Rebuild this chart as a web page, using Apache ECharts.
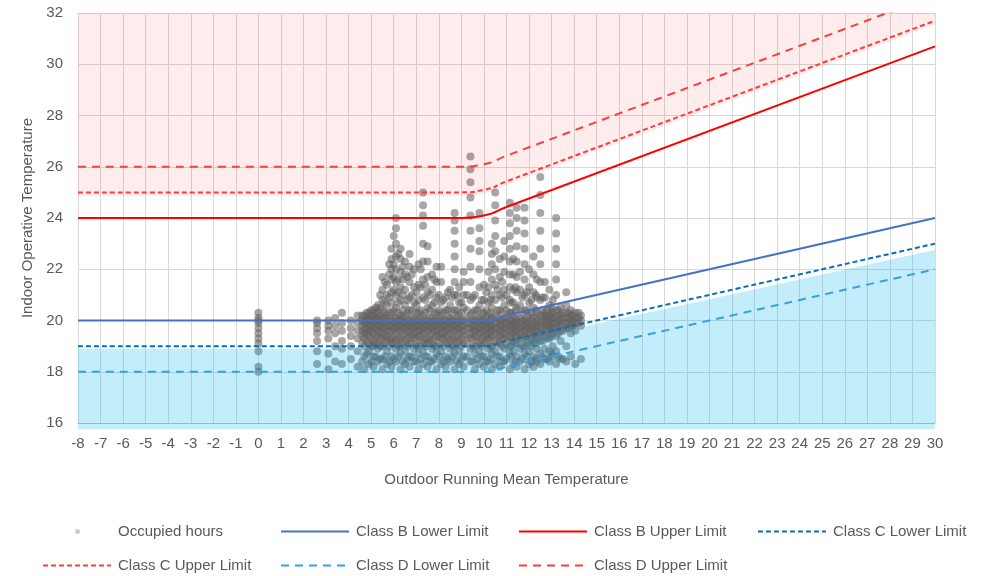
<!DOCTYPE html>
<html><head><meta charset="utf-8">
<script src="https://cdn.jsdelivr.net/npm/echarts@6/dist/echarts.min.js"></script>
<style>html,body{margin:0;padding:0;background:#fff}#chart{width:999px;height:576px}</style>
</head><body><div id="chart"></div>
<script>
// Occupied hours: x positions (outdoor running mean) and indoor temperatures per x
const occX = [0.0, 2.6, 3.1, 3.4, 3.7, 4.1, 4.4, 4.7, 4.9, 5.1, 5.3, 5.5, 5.7, 5.9, 6.1, 6.3, 6.5, 6.7, 6.9, 7.1, 7.3, 7.5, 7.7, 7.9, 8.1, 8.3, 8.5, 8.7, 8.9, 9.1, 9.4, 9.6, 9.8, 10.0, 10.2, 10.35, 10.5, 10.7, 10.9, 11.15, 11.3, 11.45, 11.6, 11.8, 12.0, 12.2, 12.35, 12.5, 12.7, 12.9, 13.05, 13.2, 13.4, 13.65, 13.85, 14.05, 14.3];
const occY = [
  [18.0, 18.2, 18.8, 19.1, 19.3, 19.5, 19.7, 19.9, 20.0, 20.1, 20.3],
  [18.3, 18.8, 19.2, 19.5, 19.7, 19.9, 20.0],
  [18.1, 18.7, 19.3, 19.6, 19.8, 20.0],
  [18.4, 19.0, 19.5, 19.8, 20.1],
  [18.3, 18.9, 19.2, 19.6, 19.9, 20.3],
  [18.5, 19.0, 19.4, 19.7, 20.0],
  [18.2, 18.8, 19.3, 19.6, 19.9, 20.2],
  [18.1, 18.6, 19.0, 19.3, 19.5, 19.7, 19.9, 20.0, 20.2],
  [18.3, 18.8, 19.1, 19.4, 19.6, 19.8, 20.0, 20.1, 20.3],
  [18.2, 18.6, 19.0, 19.2, 19.5, 19.7, 19.9, 20.0, 20.2, 20.4],
  [18.4, 18.9, 19.1, 19.4, 19.6, 19.8, 20.0, 20.1, 20.3, 20.6],
  [18.1, 18.5, 19.0, 19.3, 19.5, 19.7, 19.9, 20.1, 20.4, 20.8, 21.2, 21.7],
  [18.3, 18.8, 19.2, 19.4, 19.6, 19.8, 20.0, 20.2, 20.6, 21.0, 21.4],
  [18.2, 18.6, 19.1, 19.3, 19.6, 19.8, 20.0, 20.3, 20.7, 21.1, 21.6, 22.0, 22.4, 22.8],
  [18.4, 18.9, 19.2, 19.5, 19.7, 19.9, 20.1, 20.5, 21.0, 21.5, 22.0, 22.5, 23.0, 23.6, 24.0],
  [18.1, 18.7, 19.0, 19.3, 19.6, 19.8, 20.0, 20.2, 20.8, 21.3, 21.9, 22.4, 22.8],
  [18.3, 18.8, 19.2, 19.5, 19.7, 19.9, 20.2, 20.6, 21.2, 21.8, 22.3],
  [18.2, 18.6, 19.1, 19.4, 19.6, 19.8, 20.0, 20.4, 20.9, 21.5, 22.1, 22.6],
  [18.4, 18.9, 19.3, 19.5, 19.7, 19.9, 20.1, 20.7, 21.3, 22.0],
  [18.1, 18.7, 19.0, 19.4, 19.6, 19.8, 20.0, 20.3, 20.8, 21.4, 22.2],
  [18.3, 18.8, 19.2, 19.5, 19.7, 19.9, 20.2, 20.9, 21.6, 22.3, 23.0, 23.7, 24.1, 24.5, 25.0],
  [18.2, 18.6, 19.1, 19.3, 19.6, 19.8, 20.0, 20.5, 21.1, 21.7, 22.3, 22.9],
  [18.4, 18.9, 19.2, 19.5, 19.7, 19.9, 20.1, 20.6, 21.2, 21.8],
  [18.1, 18.7, 19.0, 19.4, 19.6, 19.8, 20.0, 20.3, 20.9, 21.5, 22.1],
  [18.3, 18.8, 19.3, 19.5, 19.7, 19.9, 20.2, 20.7, 21.5, 22.1],
  [18.2, 18.6, 19.1, 19.4, 19.6, 19.8, 20.0, 20.4, 20.9],
  [18.4, 18.9, 19.2, 19.5, 19.7, 19.9, 20.1, 20.6, 21.2],
  [18.1, 18.7, 19.0, 19.3, 19.6, 19.8, 20.0, 20.4, 21.0, 21.5, 22.0, 22.5, 23.0, 23.5, 23.9, 24.2],
  [18.3, 18.8, 19.2, 19.5, 19.7, 19.9, 20.2, 20.7, 21.3],
  [18.2, 18.6, 19.1, 19.4, 19.6, 19.8, 20.0, 20.5, 21.0, 21.5, 21.9],
  [18.4, 18.9, 19.3, 19.5, 19.7, 19.9, 20.2, 20.8, 21.5, 22.1, 22.8, 23.5, 24.1, 24.8, 25.4, 25.9, 26.4],
  [18.1, 18.7, 19.0, 19.4, 19.6, 19.8, 20.0, 20.4, 21.0],
  [18.3, 18.8, 19.2, 19.5, 19.7, 19.9, 20.1, 20.6, 21.3, 22.0, 22.7, 23.1, 23.6, 24.2],
  [18.2, 18.6, 19.1, 19.4, 19.6, 19.8, 20.0, 20.3, 20.8, 21.4],
  [18.4, 18.9, 19.3, 19.5, 19.7, 19.9, 20.2, 20.7, 21.3, 21.9],
  [18.1, 18.7, 19.0, 19.4, 19.6, 19.8, 20.1, 20.5, 21.0, 21.6, 22.2, 22.6, 23.0],
  [18.3, 18.8, 19.2, 19.5, 19.7, 19.9, 20.2, 20.8, 21.4, 22.0, 22.7, 23.3, 23.9, 24.5, 25.0],
  [18.2, 18.6, 19.1, 19.4, 19.6, 19.8, 20.0, 20.4, 21.0, 21.7, 22.4],
  [18.4, 18.9, 19.3, 19.5, 19.7, 19.9, 20.1, 20.6, 21.2, 21.9, 22.5, 23.1],
  [18.1, 18.7, 19.0, 19.4, 19.6, 19.8, 20.0, 20.3, 20.8, 21.3, 21.8, 22.3, 22.8, 23.3, 23.8, 24.2, 24.6],
  [18.3, 18.8, 19.2, 19.5, 19.7, 19.9, 20.2, 20.7, 21.2, 21.8, 22.4],
  [18.2, 18.6, 19.1, 19.4, 19.6, 19.8, 20.0, 20.5, 21.1, 21.7, 22.3, 22.9, 23.5, 24.0, 24.4],
  [18.4, 18.9, 19.3, 19.5, 19.7, 19.9, 20.1, 20.6, 21.2, 21.9],
  [18.1, 18.7, 19.0, 19.4, 19.6, 19.8, 20.0, 20.4, 21.0, 21.6, 22.2, 22.8, 23.4, 23.9, 24.4],
  [18.3, 18.8, 19.2, 19.5, 19.7, 19.9, 20.2, 20.7, 21.3, 22.0],
  [18.2, 18.6, 19.1, 19.4, 19.6, 19.8, 20.1, 20.5, 21.1, 21.8, 22.5],
  [18.4, 18.9, 19.3, 19.6, 19.8, 20.0, 20.3, 20.9, 21.6],
  [18.3, 18.7, 19.2, 19.5, 19.7, 19.9, 20.2, 20.8, 21.5, 22.2, 22.8, 23.5, 24.2, 24.9, 25.6],
  [18.5, 18.9, 19.4, 19.7, 19.9, 20.1, 20.3, 20.9, 21.5],
  [18.4, 18.8, 19.3, 19.6, 19.8, 20.0, 20.2, 20.6, 21.2],
  [18.6, 19.0, 19.5, 19.7, 19.9, 20.1, 20.3, 20.8],
  [18.3, 18.8, 19.4, 19.7, 19.9, 20.1, 20.4, 21.0, 21.6, 22.2, 22.8, 23.4, 24.0],
  [18.5, 19.2, 19.6, 19.8, 20.0, 20.2, 20.5],
  [18.4, 19.0, 19.7, 19.9, 20.1, 20.3, 20.6, 21.1],
  [18.6, 19.5, 19.8, 20.0, 20.2, 20.4],
  [18.3, 19.6, 19.9, 20.1, 20.3],
  [18.5, 19.8, 20.0, 20.2]
];
// Additional days in the dense band between the columns above
const occX2 = [4.6, 4.8, 5.0, 5.2, 5.4, 5.6, 5.8, 6.0, 6.2, 6.4, 6.6, 6.8, 7.0, 7.2, 7.4, 7.6, 7.8, 8.0, 8.2, 8.4, 8.6, 8.8, 9.0, 9.25, 9.5, 9.7, 9.9, 10.1, 10.3, 10.6, 10.8, 11.0, 11.2, 11.4, 11.7, 11.9, 12.1, 12.3, 12.6, 12.8, 13.0, 13.3, 13.5, 13.75, 13.95, 14.2];
const occY2 = [
  [18.4, 19.1, 19.4, 19.6, 19.8, 20.0, 20.2],
  [18.7, 19.2, 19.5, 19.7, 19.9, 20.1, 20.3],
  [18.4, 19.0, 19.3, 19.6, 19.8, 20.0, 20.2, 20.4],
  [18.6, 19.1, 19.4, 19.7, 19.9, 20.1, 20.3, 20.5],
  [18.5, 19.0, 19.3, 19.6, 19.8, 20.0, 20.2, 20.5, 21.0],
  [18.6, 19.1, 19.4, 19.7, 19.9, 20.1, 20.3, 20.7, 21.5],
  [18.4, 19.0, 19.3, 19.6, 19.8, 20.0, 20.3, 20.9, 21.8, 22.2],
  [18.5, 19.1, 19.4, 19.7, 19.9, 20.1, 20.4, 21.2, 21.7, 22.2, 23.3],
  [18.6, 19.0, 19.3, 19.6, 19.8, 20.0, 20.3, 20.7, 21.1, 21.6, 22.6],
  [18.4, 19.1, 19.4, 19.7, 19.9, 20.1, 20.4, 21.0, 21.6, 22.1],
  [18.5, 19.0, 19.3, 19.6, 19.8, 20.0, 20.3, 20.8, 21.7],
  [18.6, 19.1, 19.4, 19.7, 19.9, 20.1, 20.4, 21.0, 21.8],
  [18.4, 19.0, 19.3, 19.6, 19.8, 20.0, 20.3, 20.6, 21.1],
  [18.5, 19.1, 19.4, 19.7, 19.9, 20.1, 20.4, 21.3, 22.0],
  [18.6, 19.0, 19.3, 19.6, 19.8, 20.0, 20.3, 20.8, 21.4],
  [18.4, 19.1, 19.4, 19.7, 19.9, 20.1, 20.4, 21.0],
  [18.5, 19.0, 19.3, 19.6, 19.8, 20.0, 20.3, 20.7, 21.6],
  [18.6, 19.1, 19.4, 19.7, 19.9, 20.1, 20.4, 21.0],
  [18.4, 19.0, 19.3, 19.6, 19.8, 20.0, 20.3, 20.8],
  [18.5, 19.1, 19.4, 19.7, 19.9, 20.1, 20.4, 21.1],
  [18.6, 19.0, 19.3, 19.6, 19.8, 20.0, 20.3, 20.9],
  [18.4, 19.1, 19.4, 19.7, 19.9, 20.1, 20.4, 21.0],
  [18.5, 19.0, 19.3, 19.6, 19.8, 20.0, 20.3, 20.7],
  [18.6, 19.1, 19.4, 19.7, 19.9, 20.1, 20.4, 21.0],
  [18.4, 19.0, 19.3, 19.6, 19.8, 20.0, 20.3, 20.9],
  [18.5, 19.1, 19.4, 19.7, 19.9, 20.1, 20.4],
  [18.6, 19.0, 19.3, 19.6, 19.8, 20.0, 20.3, 20.8],
  [18.4, 19.1, 19.4, 19.7, 19.9, 20.1, 20.4, 21.1],
  [18.5, 19.0, 19.3, 19.6, 19.8, 20.0, 20.3, 20.8],
  [18.6, 19.1, 19.4, 19.7, 19.9, 20.1, 20.4, 21.2],
  [18.4, 19.0, 19.3, 19.6, 19.8, 20.0, 20.3, 20.9, 21.5],
  [18.5, 19.1, 19.4, 19.7, 19.9, 20.1, 20.4, 21.0],
  [18.6, 19.0, 19.3, 19.6, 19.8, 20.0, 20.3, 20.7],
  [18.4, 19.1, 19.4, 19.7, 19.9, 20.1, 20.4, 21.3],
  [18.5, 19.0, 19.3, 19.6, 19.8, 20.0, 20.3, 20.9],
  [18.6, 19.1, 19.4, 19.7, 19.9, 20.1, 20.4, 21.1],
  [18.4, 19.0, 19.3, 19.6, 19.8, 20.0, 20.3, 20.8],
  [18.5, 19.1, 19.4, 19.7, 19.9, 20.1, 20.4, 21.0],
  [18.6, 19.2, 19.5, 19.8, 20.0, 20.2, 20.4, 20.9],
  [18.5, 19.3, 19.6, 19.8, 20.0, 20.2, 20.4],
  [18.7, 19.4, 19.7, 19.9, 20.1, 20.3, 20.5],
  [18.6, 19.5, 19.8, 20.0, 20.2, 20.4],
  [18.5, 19.6, 19.9, 20.1, 20.3],
  [19.7, 19.9, 20.1, 20.3],
  [19.8, 20.0, 20.2],
  [19.9, 20.1, 20.3]
];

// Comfort limits (breakpoints)
const limitX      = [-8, 8, 9, 10, 11, 12, 30];
const classBLower = [20, 20, 20, 20, 20.2, 20.4, 24];
const classBUpper = [24, 24, 24, 24.1, 24.43, 24.76, 30.7];
const classCLower = [19, 19, 19, 19, 19.2, 19.4, 23];
const classCUpper = [25, 25, 25, 25.1, 25.43, 25.76, 31.7];
const classDLower = [18, 18, 18, 18, 18.2, 18.4, 22];
const classDUpper = [26, 26, 26, 26.1, 26.43, 26.76, 32.7];
// Shaded bands
const coldBandTop    = [18.9, 18.9, 18.9, 18.9, 19.09, 19.29, 22.75];
const warmBandBottom = [24.85, 24.85, 24.85, 24.95, 25.28, 25.61, 31.55];

const yTicks = [16, 18, 20, 22, 24, 26, 28, 30, 32];

const font = 'Liberation Sans, Arial, sans-serif';
const txt = '#595959';

const occData = [];
occX.forEach((x, i) => occY[i].forEach(y => occData.push([x, y])));
occX2.forEach((x, i) => occY2[i].forEach(y => occData.push([x, y])));
const pair = (ys) => limitX.map((x, i) => [x, ys[i]]);

const lineSeries = (name, ys, color, type, width) => ({
  name, type: 'line', data: pair(ys), xAxisIndex: 0, yAxisIndex: 0,
  symbol: 'none', smooth: 0.6, z: 5, silent: true,
  lineStyle: { color, width, type }, itemStyle: { color }
});

const legendItem = (name, left, top, extra) => Object.assign({
  data: [name], left, top, itemWidth: 68, itemHeight: 14, selectedMode: false,
  itemStyle: { opacity: 0, color: 'rgba(0,0,0,0)', borderWidth: 0 },
  textStyle: { fontFamily: font, fontSize: 15, color: txt, padding: [0, 0, 0, 2] }
}, extra || {});

const chart = echarts.init(document.getElementById('chart'), null, { renderer: 'canvas' });
chart.setOption({
  animation: false,
  backgroundColor: '#fff',
  grid: [
    { left: 78, right: 64, top: 13, bottom: 153 },
    { left: 75, right: 64, top: 13, bottom: 147 }
  ],
  xAxis: [
    { type: 'value', gridIndex: 0, min: -8, max: 30, interval: 1,
      name: 'Outdoor Running Mean Temperature', nameLocation: 'middle', nameGap: 49,
      nameTextStyle: { fontFamily: font, fontSize: 15, color: txt },
      axisLine: { show: true, lineStyle: { color: '#BFBFBF', width: 1 } },
      axisTick: { show: false },
      axisLabel: { fontFamily: font, fontSize: 15, color: txt, margin: 13 },
      splitLine: { show: true, lineStyle: { color: '#D9D9D9', width: 1 } } },
    { type: 'value', gridIndex: 1, min: -8.133, max: 30, show: false }
  ],
  yAxis: [
    { type: 'value', gridIndex: 0, min: 16, max: 32, interval: 2,
      name: 'Indoor Operative Temperature', nameLocation: 'middle', nameGap: 38,
      nameTextStyle: { fontFamily: font, fontSize: 15, color: txt },
      axisLine: { show: false }, axisTick: { show: false },
      axisLabel: { fontFamily: font, fontSize: 15, color: txt, margin: 15,
        formatter: v => yTicks.includes(v) ? String(v) : '' },
      splitLine: { show: true, lineStyle: { color: '#D9D9D9', width: 1 } } },
    { type: 'value', gridIndex: 1, min: 15.766, max: 32, show: false }
  ],
  legend: [
    legendItem('Occupied hours', 70, 519, { itemWidth: 5, itemHeight: 5, itemStyle: { color: '#BDBDBD' },
      textStyle: { fontFamily: font, fontSize: 15, color: txt, padding: [0, 0, 0, 33] } }),
    legendItem('Class B Lower Limit', 275, 519),
    legendItem('Class B Upper Limit', 513, 519),
    legendItem('Class C Lower Limit', 752, 519),
    legendItem('Class C Upper Limit', 37, 553),
    legendItem('Class D Lower Limit', 275, 553),
    legendItem('Class D Upper Limit', 513, 553)
  ],
  series: [
    { name: 'Occupied hours', type: 'scatter', data: occData, xAxisIndex: 0, yAxisIndex: 0,
      symbol: 'circle', symbolSize: 8, z: 2, silent: true, large: false,
      itemStyle: { color: 'rgba(100,96,96,0.7)' } },
    { name: 'coldBand', type: 'line', xAxisIndex: 1, yAxisIndex: 1, z: 3, silent: true,
      data: pair(coldBandTop), symbol: 'none', smooth: 0.6,
      lineStyle: { width: 0 }, areaStyle: { color: 'rgba(0,176,240,0.23)', opacity: 1, origin: 'start' } },
    { name: 'warmBand', type: 'line', xAxisIndex: 1, yAxisIndex: 1, z: 3, silent: true,
      data: pair(warmBandBottom), symbol: 'none', smooth: 0.6,
      lineStyle: { width: 0 }, areaStyle: { color: 'rgba(255,0,0,0.075)', opacity: 1, origin: 'end' } },
    lineSeries('Class B Lower Limit', classBLower, '#4472C4', 'solid', 2),
    lineSeries('Class B Upper Limit', classBUpper, '#FF0000', 'solid', 2),
    lineSeries('Class C Lower Limit', classCLower, '#0070C0', [5, 3], 2),
    lineSeries('Class C Upper Limit', classCUpper, '#FF3B3B', [5, 3], 2),
    lineSeries('Class D Lower Limit', classDLower, '#3A9EE0', [8, 6], 2),
    lineSeries('Class D Upper Limit', classDUpper, '#FF3B3B', [8, 6], 2)
  ]
});
</script>
</body></html>
